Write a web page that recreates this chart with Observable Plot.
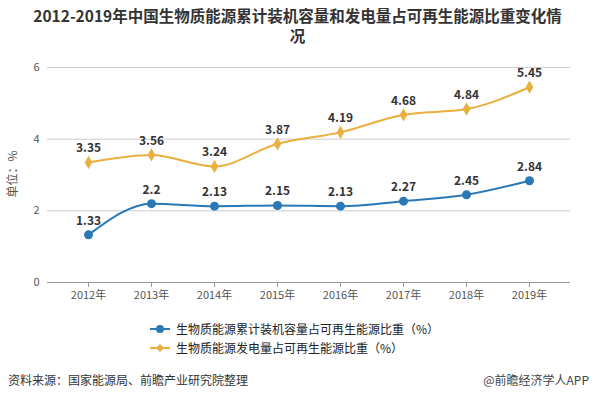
<!DOCTYPE html>
<html><head><meta charset="utf-8">
<script src="https://cdn.jsdelivr.net/npm/d3@7"></script>
<script src="https://cdn.jsdelivr.net/npm/@observablehq/plot@0.6"></script>
<style>
body{margin:0;background:#fff;font-family:"Noto Sans CJK SC","Microsoft YaHei",sans-serif;}
#wrap{position:relative;width:595px;height:399px;overflow:hidden;}
#title{position:absolute;left:0;top:5px;width:595px;text-align:center;font-size:15.5px;font-weight:bold;line-height:20px;color:#333;}
#chart{position:absolute;left:0;top:50px;}
#legend{position:absolute;left:150px;top:319px;font-size:12px;color:#222;line-height:19px;}
#legend .row{display:flex;align-items:center;}
#legend svg{margin-right:6px;}
#src{position:absolute;left:8px;top:371px;font-size:12px;color:#333;}
#app{position:absolute;right:6px;top:371px;font-size:12px;color:#444;}
</style></head><body>
<div id="wrap">
<div id="title">2012-2019年中国生物质能源累计装机容量和发电量占可再生能源比重变化情<br>况</div>
<div id="chart"></div>
<div id="legend"></div>
<div id="src">资料来源：国家能源局、前瞻产业研究院整理</div>
<div id="app">@前瞻经济学人APP</div>
</div>
<script>
const years = ["2012年","2013年","2014年","2015年","2016年","2017年","2018年","2019年"];
const capacityShare = [1.33, 2.2, 2.13, 2.15, 2.13, 2.27, 2.45, 2.84];
const generationShare = [3.35, 3.56, 3.24, 3.87, 4.19, 4.68, 4.84, 5.45];
const seriesNames = ["生物质能源累计装机容量占可再生能源比重（%）","生物质能源发电量占可再生能源比重（%）"];
const colors = ["#2a78b5","#e8b03e"];
const yTicks = [0,2,4,6];

const cap = years.map((y,i)=>({year:y, v:capacityShare[i]}));
const gen = years.map((y,i)=>({year:y, v:generationShare[i]}));

const chart = Plot.plot({
  width: 595, height: 260,
  marginLeft: 47, marginRight: 25, marginTop: 17, marginBottom: 28,
  style:{fontFamily:"'Noto Sans CJK SC',sans-serif", fontSize:"11px", color:"#555"},
  x:{type:"point", domain:years, padding:0.62, label:null, tickSize:5},
  y:{domain:[0,6], ticks:yTicks, label:null, tickSize:0, tickPadding:8},
  marks:[
    Plot.gridY(yTicks.slice(1), {stroke:"#ccc", strokeOpacity:1}),
    Plot.ruleY([0], {stroke:"#999"}),
    Plot.axisX({tickSize:5, stroke:"#999", fill:"#555", fontSize:11, tickPadding:4}),
    Plot.axisY({ticks:yTicks, tickFormat:d=>String(d), tickSize:0, tickPadding:8, fill:"#555", fontSize:11}),
    Plot.line(gen, {x:"year", y:"v", stroke:colors[1], strokeWidth:2, curve:"monotone-x"}),
    Plot.dot(gen, {x:"year", y:"v", fill:colors[1], symbol:"diamond", r:4}),
    Plot.line(cap, {x:"year", y:"v", stroke:colors[0], strokeWidth:2, curve:"monotone-x"}),
    Plot.dot(cap, {x:"year", y:"v", fill:colors[0], r:4.5}),
    Plot.text(gen, {x:"year", y:"v", text:d=>String(d.v), dy:-14, fill:"#333", fontWeight:"bold", fontSize:12}),
    Plot.text(cap, {x:"year", y:"v", text:d=>String(d.v), dy:-14, fill:"#333", fontWeight:"bold", fontSize:12})
  ]
});
document.getElementById("chart").appendChild(chart);
const svg = d3.select(chart);
svg.append("text").attr("transform","translate(17,124) rotate(-90)").attr("text-anchor","middle")
  .attr("fill","#555").attr("font-size",12).text("单位：%");

const leg = document.getElementById("legend");
seriesNames.forEach((n,i)=>{
  const row = document.createElement("div"); row.className="row";
  const marker = i===0
    ? `<svg width="20" height="10"><line x1="0" y1="5" x2="20" y2="5" stroke="${colors[0]}" stroke-width="2"/><circle cx="10" cy="5" r="4" fill="${colors[0]}"/></svg>`
    : `<svg width="20" height="10"><line x1="0" y1="5" x2="20" y2="5" stroke="${colors[1]}" stroke-width="2"/><path d="M10 1L14 5L10 9L6 5Z" fill="${colors[1]}"/></svg>`;
  row.innerHTML = marker + `<span>${n}</span>`;
  leg.appendChild(row);
});
</script>
</body></html>
